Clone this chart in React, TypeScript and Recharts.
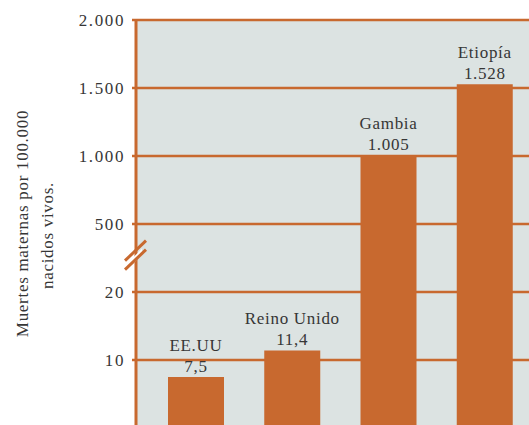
import React from 'react';
import { BarChart, Bar, XAxis, YAxis, CartesianGrid, LabelList } from 'recharts';

// maternal deaths per 100,000 live births
const countries = ['EE.UU', 'Reino Unido', 'Gambia', 'Etiopía'];
const rates = [7.5, 11.4, 1005, 1528];
const rateLabels = ['7,5', '11,4', '1.005', '1.528'];

const tickValues = [10, 20, 500, 1000, 1500, 2000];
const tickLabels = ['10', '20', '500', '1.000', '1.500', '2.000'];

const ORANGE = '#C8692F';
const BG = '#DCE3E2';
const TEXT = '#363636';
const FONT = '"Liberation Serif", serif';

// broken axis: 0-20 on a 10-step scale, 500-2000 on a 500-step scale
const toAxis = (v: number) => (v <= 20 ? v / 10 : 3 + (v - 500) / 500);
const BREAK = 2.52;

const data = countries.map((name, i) => ({ name, value: toAxis(rates[i]), label: rateLabels[i] }));
const axisTicks = [...tickValues.map(toAxis), BREAK].sort((a, b) => a - b);

const AxisTick = (props: any) => {
  const { x, y, payload } = props;
  if (payload.value === BREAK) {
    return (
      <g>
        <polygon points={`${x - 6},${y + 4} ${x + 6},${y - 8} ${x + 6},${y - 2} ${x - 6},${y + 10}`} fill="#fff" />
        <line x1={x - 11} y1={y + 4} x2={x + 10} y2={y - 16} stroke={ORANGE} strokeWidth={3} />
        <line x1={x - 11} y1={y + 13} x2={x + 10} y2={y - 7} stroke={ORANGE} strokeWidth={3} />
      </g>
    );
  }
  const idx = tickValues.findIndex((v) => toAxis(v) === payload.value);
  return (
    <g>
      <line x1={x - 4} y1={y} x2={x} y2={y} stroke={ORANGE} strokeWidth={2.5} />
      <text x={x - 11} y={y} dy="0.35em" textAnchor="end" fill={TEXT} fontSize={17} letterSpacing={1.6} fontFamily={FONT}>
        {tickLabels[idx]}
      </text>
    </g>
  );
};

const AxisTitle = (props: any) => {
  const vb = props.viewBox || { x: 8, y: 20, width: 128, height: 405 };
  const cy = vb.y + vb.height / 2;
  const t = { fill: TEXT, fontSize: 17, letterSpacing: 0.7, fontFamily: FONT, textAnchor: 'middle' as const };
  return (
    <g>
      <text {...t} x={28} y={cy + 1} transform={`rotate(-90 28 ${cy + 1})`}>Muertes maternas por 100.000</text>
      <text {...t} x={53} y={cy + 13} transform={`rotate(-90 53 ${cy + 13})`}>nacidos vivos.</text>
    </g>
  );
};

const BarTopLabel = (props: any) => {
  const { x, y, width, index } = props;
  const cx = x + width / 2;
  const t = { fill: TEXT, fontSize: 17, letterSpacing: 0.7, fontFamily: FONT, textAnchor: 'middle' as const };
  return (
    <g>
      <text {...t} x={cx} y={y - 26}>{countries[index]}</text>
      <text {...t} x={cx} y={y - 5}>{rateLabels[index]}</text>
    </g>
  );
};

export default function App() {
  return (
    <div style={{ width: 529, height: 425 }}>
      <style>{'html,body{margin:0;overflow:hidden}'}</style>
      <BarChart width={529} height={425} data={data} margin={{ top: 20, right: 0, bottom: 0, left: 8 }}>
        <CartesianGrid
          vertical={false}
          horizontalValues={tickValues.map(toAxis)}
          stroke={ORANGE}
          strokeWidth={2.5}
          fill={BG}
          fillOpacity={1}
        />
        <XAxis dataKey="name" hide padding={{ left: 12, right: -4 }} />
        <YAxis
          type="number"
          domain={[0.044, 6]}
          ticks={axisTicks}
          interval={0}
          width={128}
          tickSize={0}
          tickMargin={0}
          tickLine={false}
          axisLine={{ stroke: ORANGE, strokeWidth: 3 }}
          tick={<AxisTick />}
          label={{ content: <AxisTitle /> }}
          allowDataOverflow
        />
        <Bar dataKey="value" fill={ORANGE} barSize={56} isAnimationActive={false}>
          <LabelList dataKey="label" content={<BarTopLabel />} />
        </Bar>
      </BarChart>
    </div>
  );
}
